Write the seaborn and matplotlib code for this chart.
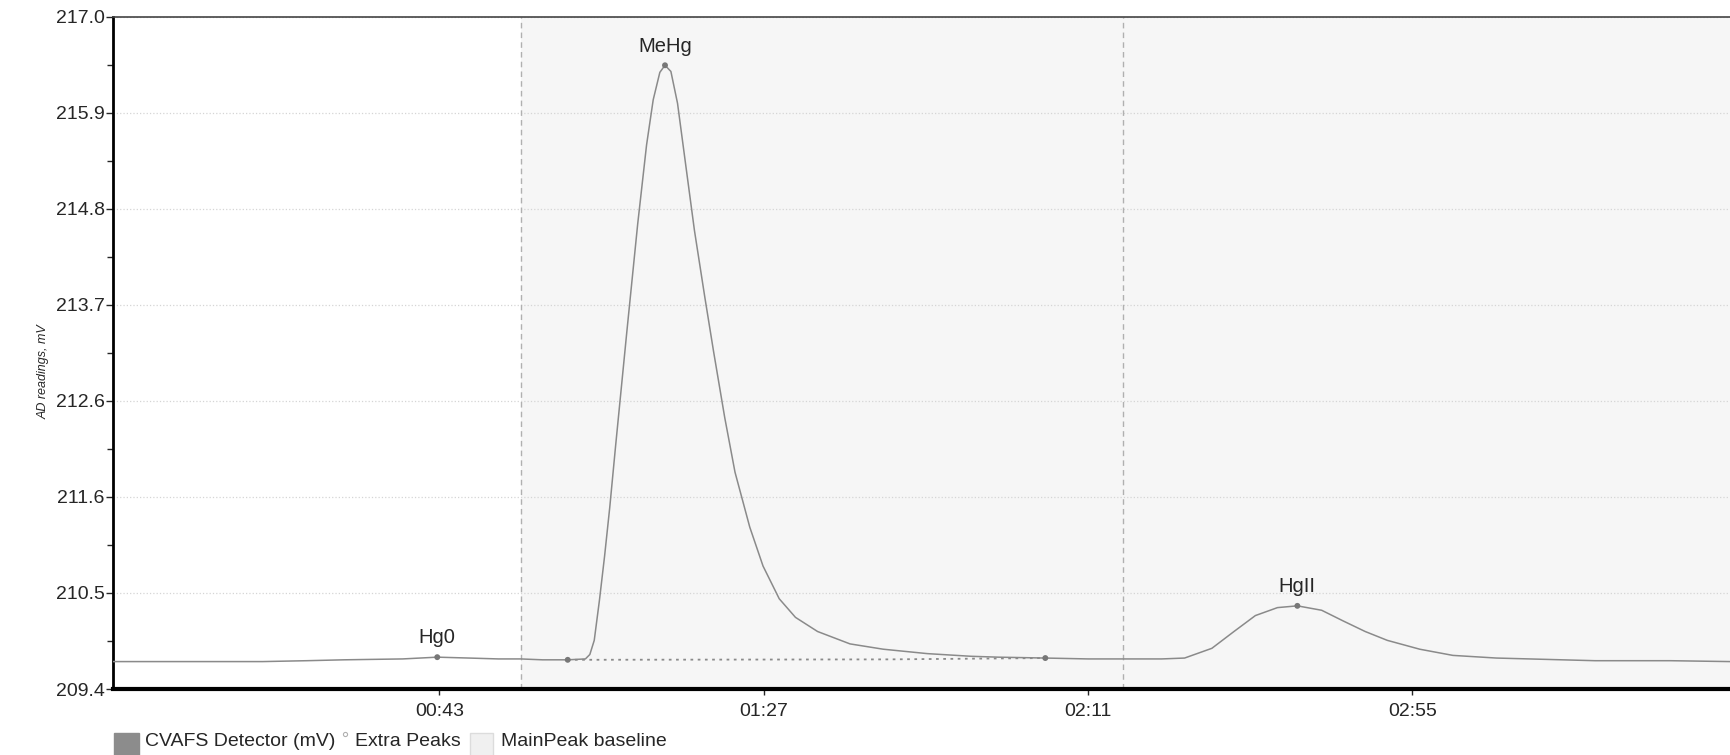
import numpy as np
import pandas as pd
import matplotlib
matplotlib.use("Agg")
from matplotlib import pyplot as plt
from matplotlib.patches import Rectangle
from matplotlib.lines import Line2D
import seaborn as sns

# detector trace (seconds, mV)
time_s = [-1.3, 10, 19, 25, 30, 38, 42.7, 47, 51, 54, 57, 60.4, 62.8, 63.4, 64.0, 64.7,
          65.4, 66.1, 66.9, 68.4, 69.9, 71.1, 72.0, 72.9, 73.6, 74.4, 75.3, 76.4, 77.6,
          79.0, 80.2, 81.7, 83.1, 85.1, 86.9, 89.1, 91.3, 94.3, 98.7, 103.2, 109.2,
          115.1, 118.8, 125.2, 131, 136, 141, 144.1, 147.8, 150.8, 153.7, 156.7, 159.4,
          162.7, 165.6, 168.6, 171.6, 176.0, 180.5, 186.4, 199.8, 210, 218.1]
signal_mv = [209.71, 209.71, 209.71, 209.72, 209.73, 209.74, 209.76, 209.75, 209.74,
             209.74, 209.73, 209.73, 209.74, 209.79, 209.95, 210.40, 210.90, 211.45,
             212.15, 213.42, 214.66, 215.55, 216.06, 216.37, 216.45, 216.38, 216.02,
             215.33, 214.58, 213.83, 213.21, 212.47, 211.85, 211.23, 210.79, 210.42,
             210.21, 210.05, 209.91, 209.85, 209.80, 209.77, 209.76, 209.75, 209.74,
             209.74, 209.74, 209.75, 209.86, 210.05, 210.23, 210.32, 210.34, 210.29,
             210.17, 210.05, 209.95, 209.85, 209.78, 209.75, 209.72, 209.72, 209.71]

peak_names = ["Hg0", "MeHg", "HgII"]
peak_time = [42.7, 73.6, 159.4]
peak_mv = [209.76, 216.45, 210.34]

baseline_time = [60.4, 104.0, 125.2]
baseline_mv = [209.73, 209.735, 209.75]

window_time = [54.0, 135.8]

xtick_pos = [43, 87, 131, 175]
xtick_labels = ["00:43", "01:27", "02:11", "02:55"]
ytick_labels = ["209.4", "210.5", "211.6", "212.6", "213.7", "214.8", "215.9", "217.0"]

legend_labels = ["CVAFS Detector (mV)", "Extra Peaks", "MainPeak baseline"]

trace = pd.DataFrame({"t": time_s, "mv": signal_mv})

sns.set_style("white")
plt.rcParams["font.family"] = ["Liberation Sans", "DejaVu Sans"]

W, H = 1730, 755
fig = plt.figure(figsize=(W / 100, H / 100), dpi=100)
ax = fig.add_axes([0.0653, 0.0874, 0.9347, 0.8906])

x_min, x_max = -1.3, 218.1
ax.axvspan(window_time[0], x_max, color="#f6f6f6", zorder=0, lw=0)
for t in window_time:
    ax.axvline(t, color="#b0b0b0", ls=(0, (4, 3)), lw=1, zorder=1)

sns.lineplot(data=trace, x="t", y="mv", color="#8a8a8a", lw=1.1, ax=ax,
             estimator=None, zorder=3)
ax.plot(baseline_time, baseline_mv, ls=(0, (1.5, 2.5)), color="#8a8a8a", lw=1.3, zorder=3)
sns.scatterplot(x=peak_time, y=peak_mv, color="#777777", s=18, edgecolor="none",
                ax=ax, zorder=4)
sns.scatterplot(x=[baseline_time[0], baseline_time[-1]], y=[baseline_mv[0], baseline_mv[-1]],
                color="#777777", s=18, edgecolor="none", ax=ax, zorder=4)

for name, t, v in zip(peak_names, peak_time, peak_mv):
    ax.annotate(name, (t, v), xytext=(0, 7), textcoords="offset points",
                ha="center", va="bottom", fontsize=14.5)

ax.set_xlim(x_min, x_max)
ax.set_ylim(209.4, 217.0)
ax.set_xticks(xtick_pos)
ax.set_xticklabels(xtick_labels)
yt = np.linspace(209.4, 217.0, 8)
ax.set_yticks(yt)
ax.set_yticklabels(ytick_labels)
ax.set_yticks((yt[:-1] + yt[1:]) / 2, minor=True)
ax.tick_params(axis="y", which="major", length=5, width=1, pad=1, labelsize=14, left=True)
ax.tick_params(axis="y", which="minor", length=4, width=1, left=True)
ax.tick_params(axis="x", which="major", length=4, width=1, pad=6, labelsize=14, bottom=True)
ax.set_xlabel("")
ax.set_ylabel("")

ax.yaxis.grid(True, ls=":", color="#d5d5d5", lw=0.9)
ax.xaxis.grid(False)

ax.spines["left"].set_linewidth(2)
ax.spines["left"].set_color("black")
ax.spines["bottom"].set_linewidth(3)
ax.spines["bottom"].set_color("black")
ax.spines["top"].set_linewidth(1.2)
ax.spines["top"].set_color("#444444")
ax.spines["right"].set_visible(False)

fig.text(0.0254, 0.5075, "AD readings, mV", rotation=90, ha="center", va="center",
         fontsize=9, style="italic")

# legend strip along the bottom edge, laid out item by item (pixel units)
fig.canvas.draw()
renderer = fig.canvas.get_renderer()
text_y = 13 / H


def put_text(x_px, s):
    t = fig.text(x_px / W, text_y, s, ha="left", va="center", fontsize=14)
    return t.get_window_extent(renderer).x1


x = 114
fig.patches.append(Rectangle((x / W, -3 / H), 25 / W, 25 / H, transform=fig.transFigure,
                             facecolor="#8c8c8c", edgecolor="#8c8c8c", figure=fig))
end = put_text(x + 31, legend_labels[0])
fig.lines.append(Line2D([(end + 10) / W], [21 / H], marker="o", ms=3, mfc="none",
                        mec="#b0b0b0", mew=0.8, ls="none", transform=fig.transFigure,
                        figure=fig))
end = put_text(end + 20, legend_labels[1])
x = end + 9
fig.patches.append(Rectangle((x / W, -3 / H), 23 / W, 25 / H, transform=fig.transFigure,
                             facecolor="#f0f0f0", edgecolor="#dcdcdc", figure=fig))
put_text(x + 31, legend_labels[2])

fig.savefig("out.png", dpi=100)
